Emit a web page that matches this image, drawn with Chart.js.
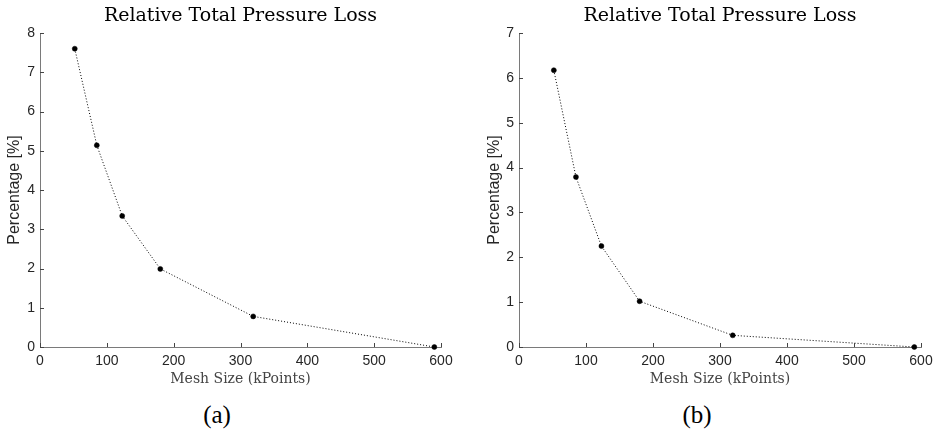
<!DOCTYPE html>
<html>
<head>
<meta charset="UTF-8">
<title>Relative Total Pressure Loss</title>
<script src="https://cdn.jsdelivr.net/npm/chart.js@4.4.1/dist/chart.umd.min.js"></script>
<style>
  body { margin: 0; background: #fff; }
  #wrap { position: relative; width: 941px; height: 433px; overflow: hidden; }
  .panel { position: absolute; top: 0; height: 390px; }
  .cap {
    position: absolute; top: 400px; width: 80px; text-align: center;
    font-family: "Liberation Serif", serif; font-size: 25px; line-height: 30px; color: #000;
  }
</style>
</head>
<body>
<div id="wrap">
  <div class="panel" style="left:0; width:470px;"><canvas id="chartA"></canvas></div>
  <div class="panel" style="left:470px; width:471px;"><canvas id="chartB"></canvas></div>
  <div class="cap" style="left:177px;">(a)</div>
  <div class="cap" style="left:657px;">(b)</div>
</div>
<script>
// Datos
const meshSize = [52, 85, 123, 180, 319, 590];          // kPoints
const lossA = [7.6, 5.14, 3.34, 1.99, 0.78, 0];          // % (a)
const lossB = [6.17, 3.79, 2.25, 1.02, 0.26, 0];         // % (b)
const xTicks = [0, 100, 200, 300, 400, 500, 600];
const yTicksA = [0, 1, 2, 3, 4, 5, 6, 7, 8];
const yTicksB = [0, 1, 2, 3, 4, 5, 6, 7];

const tickColor = '#262626';

// Marcas de eje hacia dentro (estilo MATLAB)
const inwardTicks = {
  id: 'inwardTicks',
  afterDatasetsDraw(chart) {
    const { ctx, chartArea, scales: { x, y } } = chart;
    ctx.save();
    ctx.strokeStyle = '#444';
    ctx.lineWidth = 1;
    ctx.beginPath();
    x.ticks.forEach(t => {
      const px = Math.round(x.getPixelForValue(t.value)) + 0.5;
      ctx.moveTo(px, chartArea.bottom);
      ctx.lineTo(px, chartArea.bottom - 4);
    });
    y.ticks.forEach(t => {
      const py = Math.round(y.getPixelForValue(t.value)) + 0.5;
      ctx.moveTo(chartArea.left, py);
      ctx.lineTo(chartArea.left + 4, py);
    });
    ctx.stroke();
    ctx.restore();
  }
};

function makeChart(id, values, yTicks, axisWidth, rightPad, yTitlePad) {
  const ctx = document.getElementById(id).getContext('2d');
  return new Chart(ctx, {
    type: 'line',
    data: {
      datasets: [{
        data: meshSize.map((m, i) => ({ x: m, y: values[i] })),
        borderColor: '#000',
        borderWidth: 1,
        borderDash: [1, 2],
        backgroundColor: '#000',
        pointRadius: 2.5,
        pointHoverRadius: 2.5,
        pointBorderWidth: 0.5,
        tension: 0,
        clip: false
      }]
    },
    options: {
      responsive: true,
      maintainAspectRatio: false,
      animation: false,
      layout: { padding: { left: 0, right: rightPad, top: 0, bottom: 0 } },
      plugins: {
        legend: { display: false },
        tooltip: { enabled: false },
        title: {
          display: true,
          text: 'Relative Total Pressure Loss',
          fullSize: false,
          color: '#000',
          font: { family: 'DejaVu Serif', size: 19, weight: 'normal', lineHeight: 1.2 },
          padding: { top: 4.5, bottom: 5.7 }
        }
      },
      scales: {
        x: {
          type: 'linear',
          min: xTicks[0],
          max: xTicks[xTicks.length - 1],
          afterBuildTicks: s => { s.ticks = xTicks.map(v => ({ value: v })); },
          afterFit: s => { s.height = 43; },
          grid: { drawOnChartArea: false, drawTicks: false },
          border: { display: true, color: '#7a7a7a', width: 1 },
          ticks: {
            autoSkip: false,
            padding: 6,
            color: tickColor,
            font: { family: 'Liberation Sans', size: 14 }
          },
          title: {
            display: true,
            text: 'Mesh Size (kPoints)',
            color: '#444',
            font: { family: 'DejaVu Serif', size: 14, lineHeight: 1.2 },
            padding: { top: 0, bottom: 2.5 }
          }
        },
        y: {
          type: 'linear',
          min: yTicks[0],
          max: yTicks[yTicks.length - 1],
          afterBuildTicks: s => { s.ticks = yTicks.map(v => ({ value: v })); },
          afterFit: s => { s.width = axisWidth; },
          grid: { drawOnChartArea: false, drawTicks: false },
          border: { display: true, color: '#7a7a7a', width: 1 },
          ticks: {
            autoSkip: false,
            padding: 5,
            color: tickColor,
            font: { family: 'Liberation Sans', size: 14 }
          },
          title: {
            display: true,
            text: 'Percentage [%]',
            color: tickColor,
            font: { family: 'Liberation Sans', size: 16, lineHeight: 1.2 },
            padding: { top: yTitlePad, bottom: 0 }
          }
        }
      }
    },
    plugins: [inwardTicks]
  });
}

makeChart('chartA', lossA, yTicksA, 40, 29, 5.4);
makeChart('chartB', lossB, yTicksB, 49, 20, 15.4);
</script>
</body>
</html>
